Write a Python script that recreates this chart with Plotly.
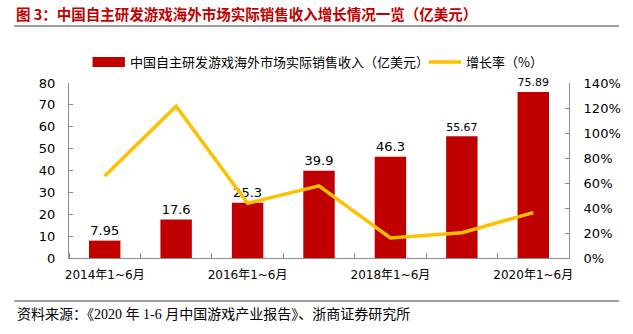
import plotly.graph_objects as go

categories = ["2014年1~6月", "2015年1~6月", "2016年1~6月", "2017年1~6月",
              "2018年1~6月", "2019年1~6月", "2020年1~6月"]
revenue = [7.95, 17.6, 25.3, 39.9, 46.3, 55.67, 75.89]
revenue_labels = ["7.95", "17.6", "25.3", "39.9", "46.3", "55.67", "75.89"]
growth = [0.656, 1.214, 0.4375, 0.577, 0.160, 0.202, 0.363]
shown_ticks = ["2014年1~6月", "2016年1~6月", "2018年1~6月", "2020年1~6月"]
left_ticks = [0, 10, 20, 30, 40, 50, 60, 70, 80]
right_ticks = [0, 0.2, 0.4, 0.6, 0.8, 1.0, 1.2, 1.4]

RED = "#C00000"
GOLD = "#FFC000"
AXIS = "#8C8C8C"
TICKFONT = "DejaVu Sans, Verdana, sans-serif"
CJK = "Noto Sans CJK SC"

x_idx = list(range(len(categories)))

fig = go.Figure()
fig.add_trace(go.Bar(
    x=x_idx, y=revenue, width=0.44, marker=dict(color=RED, line=dict(width=0)),
    text=revenue_labels, textposition="outside", cliponaxis=False,
    textfont=dict(family=TICKFONT, size=13, color="#000000"),
    name="中国自主研发游戏海外市场实际销售收入（亿美元）", showlegend=False,
))
fig.add_trace(go.Scatter(
    x=x_idx, y=growth, yaxis="y2", mode="lines",
    line=dict(color=GOLD, width=3.5), name="增长率（%）", showlegend=False,
    cliponaxis=False,
))

L, R, T, B = 69, 54, 83, 76
W, H = 633, 334
pw, ph = W - L - R, H - T - B


def px(x):
    return (x - L) / pw


def py(y):
    return (H - B - y) / ph


fig.update_layout(
    width=W, height=H,
    margin=dict(l=L, r=R, t=T, b=B, pad=0),
    paper_bgcolor="white", plot_bgcolor="white",
    bargap=0.56,
    xaxis=dict(
        range=[-0.5, 6.5],
        tickmode="array",
        tickvals=[categories.index(c) for c in shown_ticks],
        ticktext=shown_ticks,
        ticks="", showgrid=False, zeroline=False,
        showline=True, linecolor=AXIS, linewidth=1,
        tickfont=dict(family="DejaVu Sans, " + CJK, size=12, color="#000000"),
        ticklabelstandoff=6,
        minor=dict(tickmode="linear", tick0=-0.5, dtick=1, ticks="inside",
                   ticklen=5, tickcolor=AXIS, showgrid=False),
    ),
    yaxis=dict(
        range=[0, 80], tickvals=left_ticks, ticks="inside", ticklen=4,
        tickcolor=AXIS, showgrid=False, zeroline=False,
        showline=True, linecolor=AXIS, linewidth=1,
        tickfont=dict(family=TICKFONT, size=13, color="#000000"),
        ticklabelstandoff=10,
    ),
    yaxis2=dict(
        range=[0, 1.4], tickvals=right_ticks, tickformat=".0%",
        overlaying="y", side="right", ticks="inside", ticklen=4,
        tickcolor=AXIS, showgrid=False, zeroline=False,
        showline=True, linecolor=AXIS, linewidth=1,
        tickfont=dict(family=TICKFONT, size=13, color="#000000"),
        ticklabelstandoff=11,
    ),
    showlegend=False,
)

shapes = []
annotations = []

# title + rule
annotations.append(dict(
    xref="paper", yref="paper", x=px(13), y=py(13), xanchor="left", yanchor="middle",
    text="<b>图 3：中国自主研发游戏海外市场实际销售收入增长情况一览（亿美元）</b>",
    showarrow=False, font=dict(family=CJK, size=14.5, color=RED),
))
shapes.append(dict(type="line", xref="paper", yref="paper",
                   x0=px(13), x1=px(630), y0=py(26), y1=py(26),
                   line=dict(color="#404040", width=1)))

# footer rule + text
shapes.append(dict(type="line", xref="paper", yref="paper",
                   x0=px(13), x1=px(630), y0=py(301), y1=py(301),
                   line=dict(color="#404040", width=1)))
annotations.append(dict(
    xref="paper", yref="paper", x=px(14), y=py(314), xanchor="left", yanchor="middle",
    text="资料来源：《2020 年 1-6 月中国游戏产业报告》、浙商证券研究所",
    showarrow=False, font=dict(family="Liberation Serif, " + CJK, size=14, color="#000000"),
))

# legend (manual)
shapes.append(dict(type="rect", xref="paper", yref="paper",
                   x0=px(93), x1=px(126), y0=py(67), y1=py(57),
                   fillcolor=RED, line=dict(width=0)))
annotations.append(dict(
    xref="paper", yref="paper", x=px(129), y=py(62), xanchor="left", yanchor="middle",
    text="中国自主研发游戏海外市场实际销售收入（亿美元）",
    showarrow=False, font=dict(family=CJK, size=13, color="#000000"),
))
shapes.append(dict(type="line", xref="paper", yref="paper",
                   x0=px(436), x1=px(469), y0=py(62), y1=py(62),
                   line=dict(color=GOLD, width=3.5)))
annotations.append(dict(
    xref="paper", yref="paper", x=px(472), y=py(62), xanchor="left", yanchor="middle",
    text="增长率（%）",
    showarrow=False, font=dict(family=CJK, size=13, color="#000000"),
))

fig.update_layout(shapes=shapes, annotations=annotations)
fig.write_html("out.html")
